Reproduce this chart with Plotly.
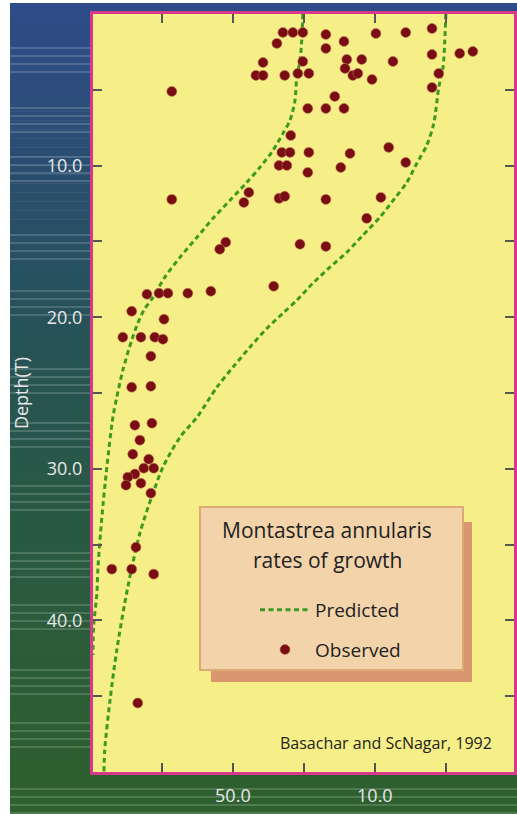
import plotly.graph_objects as go

# ---------------- data ----------------
# Observed growth rates (x, chart units; axis runs right-to-left) and depth (y)
obs_rate = [35.9, 33.1, 30.3, 23.8, 9.7, 1.3, -6.1, 37.6, 23.8, 18.7, -6.1, -13.9, -17.6,
            41.5, 30.3, 17.9, 13.7, 4.9, 18.4, 43.5, 41.5, 35.4, 31.7, 28.6, 16.2, 14.8,
            10.8, -8.0, -6.1, 67.2, 21.3, 28.9, 23.8, 18.7, 33.7, 36.2, 33.9, 28.6, 17.0,
            6.1, 37.0, 34.8, 28.9, 19.6, 1.3, 45.5, 46.9, 37.0, 35.4, 23.8, 8.3, 67.2,
            12.3, 52.0, 53.7, 31.1, 23.8, 38.5, 74.2, 70.8, 68.3, 62.7, 56.2, 78.5, 69.4,
            81.0, 75.9, 72.0, 69.7, 73.1, 78.5, 73.1, 77.6, 72.8, 76.2, 78.2, 73.7, 75.1,
            72.3, 77.6, 79.6, 80.1, 75.9, 73.1, 77.3, 84.1, 78.5, 72.3, 76.8]
obs_depth = [1.22, 1.22, 1.22, 1.35, 1.29, 1.22, 0.96, 1.94, 2.27, 1.81, 2.67, 2.60, 2.47,
             3.20, 3.13, 3.00, 3.00, 3.13, 3.59, 4.05, 4.05, 4.05, 3.92, 3.92, 4.05, 3.92,
             4.32, 3.92, 4.85, 5.11, 5.44, 6.23, 6.23, 6.23, 8.01, 9.13, 9.13, 9.13, 9.20,
             8.80, 9.99, 9.99, 10.45, 10.12, 9.79, 11.77, 12.43, 12.16, 12.03, 12.23, 12.10, 12.23,
             13.48, 15.06, 15.52, 15.19, 15.33, 17.96, 18.49, 18.42, 18.42, 18.42, 18.29, 19.61, 20.14,
             21.32, 21.32, 21.32, 21.46, 22.58, 24.62, 24.56, 27.13, 26.99, 28.11, 29.04, 29.37, 29.96,
             29.96, 30.35, 30.55, 31.08, 30.95, 31.61, 35.17, 36.62, 36.62, 36.95, 45.45]

# Predicted envelope (two dashed curves)
pred_left_rate = [30.3, 30.6, 31.1, 32.0, 32.5, 33.9, 35.9, 38.7, 42.4, 46.1, 50.8, 55.6, 60.1,
                  64.9, 69.2, 72.5, 75.1, 77.0, 78.5, 81.0, 82.7, 83.8, 85.5, 86.9, 88.0, 88.3,
                  89.2, 89.4]
pred_left_depth = [0.0, 1.75, 3.07, 4.19, 5.70, 7.02, 7.88, 9.00, 10.12, 11.11, 12.29, 13.48, 14.73,
                   16.05, 17.37, 18.69, 19.55, 20.53, 21.52, 23.50, 25.28, 26.60, 29.89, 33.19, 36.49,
                   38.20, 40.31, 42.29]
pred_right_rate = [-10.0, -9.7, -9.2, -8.0, -6.6, -4.6, -1.8, 1.0, 4.4, 8.6, 13.4, 17.9, 22.7,
                   27.5, 32.0, 35.9, 40.4, 45.2, 50.0, 54.5, 60.1, 64.9, 69.7, 72.5, 76.2, 79.6,
                   82.7, 84.6, 86.1, 86.3]
pred_right_depth = [0.0, 1.75, 3.53, 4.85, 7.22, 8.67, 9.86, 11.11, 12.16, 13.41, 14.60, 15.72, 16.71,
                    17.77, 18.89, 19.74, 20.73, 21.98, 23.30, 24.62, 26.60, 27.92, 29.89, 31.61, 34.25,
                    37.81, 41.96, 45.25, 48.55, 50.0]

x_tickvals = [70, 50, 30, 10, -10]
x_ticktext = ["", "50.0", "", "10.0", ""]
y_tickvals = [5, 10, 15, 20, 25, 30, 35, 40, 45]
y_ticktext = ["", "10.0", "", "20.0", "", "30.0", "", "40.0", ""]

legend_title_lines = ["Montastrea annularis", "rates of growth"]
citation = "Basachar and ScNagar, 1992"

# ---------------- layout helpers (pixel geometry) ----------------
W, H = 517, 814
PL, PR, PT, PB = 93, 514, 14, 772


def px(xp):
    return (xp - PL) / (PR - PL)


def py(yp):
    return (PB - yp) / (PB - PT)


FONT = "Open Sans"
GREEN = "#3d9a1f"
DOT = "#7a0c14"

fig = go.Figure()

fig.add_trace(go.Scatter(x=pred_left_rate, y=pred_left_depth, mode="lines", name="Predicted",
                         legendgroup="pred", line=dict(color=GREEN, width=3, dash="5px,3.5px",
                                                       shape="spline", smoothing=0.8)))
fig.add_trace(go.Scatter(x=pred_right_rate, y=pred_right_depth, mode="lines", name="Predicted",
                         legendgroup="pred", showlegend=False,
                         line=dict(color=GREEN, width=3, dash="5px,3.5px",
                                   shape="spline", smoothing=0.8)))
fig.add_trace(go.Scatter(x=obs_rate, y=obs_depth, mode="markers", name="Observed",
                         legendgroup="obs",
                         marker=dict(color=DOT, size=10,
                                     line=dict(color="rgba(190,120,90,0.7)", width=0.8))))

# ---------------- background decoration ----------------
shapes = []
stops = [(0.0, (46, 76, 138)), (0.2, (42, 78, 112)), (0.4, (39, 82, 88)),
         (0.6, (41, 88, 70)), (0.8, (44, 92, 56)), (1.0, (46, 96, 46))]


def lerp_color(t):
    for (t0, c0), (t1, c1) in zip(stops[:-1], stops[1:]):
        if t0 <= t <= t1:
            f = (t - t0) / (t1 - t0)
            c = [round(a + (b - a) * f) for a, b in zip(c0, c1)]
            return "rgb(%d,%d,%d)" % tuple(c)
    return "rgb(%d,%d,%d)" % stops[-1][1]


top, bot, n = 3, 814, 90
step = (bot - top) / n
for i in range(n):
    y0 = top + i * step
    y1 = y0 + step + 0.6
    shapes.append(dict(type="rect", xref="paper", yref="paper", layer="below",
                       x0=px(10), x1=px(517), y0=py(min(y1, bot)), y1=py(y0),
                       fillcolor=lerp_color((i + 0.5) / n), line=dict(width=0)))

group_starts = [48, 108, 157, 235, 291, 369, 423, 486, 553, 605, 670, 723, 789]
for g in group_starts:
    for k in range(4):
        yl = g + 8 * k
        if yl > 813:
            continue
        shapes.append(dict(type="line", xref="paper", yref="paper", layer="below",
                           x0=px(10), x1=px(517), y0=py(yl), y1=py(yl),
                           line=dict(color="rgba(255,255,255,0.22)", width=1.5)))

# plot area
shapes.append(dict(type="rect", xref="paper", yref="paper", layer="below",
                   x0=0, x1=1, y0=0, y1=1, fillcolor="#f6ee86", line=dict(width=0)))
# legend shadow + box
shapes.append(dict(type="rect", xref="paper", yref="paper", layer="below",
                   x0=px(211), x1=px(472), y0=py(682), y1=py(522),
                   fillcolor="#da9670", line=dict(width=0)))
shapes.append(dict(type="rect", xref="paper", yref="paper", layer="below",
                   x0=px(200), x1=px(463), y0=py(670), y1=py(507),
                   fillcolor="#f3d3aa", line=dict(color="#dcaa74", width=2)))

annotations = [
    dict(text=legend_title_lines[0], xref="paper", yref="paper", x=px(327), y=py(530),
         xanchor="center", yanchor="middle", showarrow=False,
         font=dict(family=FONT, size=21, color="#222222")),
    dict(text=legend_title_lines[1], xref="paper", yref="paper", x=px(327), y=py(560),
         xanchor="center", yanchor="middle", showarrow=False,
         font=dict(family=FONT, size=21, color="#222222")),
    dict(text=citation, xref="paper", yref="paper", x=px(494), y=py(743),
         xanchor="right", yanchor="middle", showarrow=False,
         font=dict(family=FONT, size=16, color="#222222")),
]

fig.update_layout(
    width=W, height=H,
    margin=dict(l=PL, r=W - PR, t=PT, b=H - PB, autoexpand=False),
    paper_bgcolor="white", plot_bgcolor="rgba(0,0,0,0)",
    font=dict(family=FONT, size=18, color="#e8e8e8"),
    shapes=shapes, annotations=annotations,
    showlegend=True,
    legend=dict(x=px(255), y=py(591), xanchor="left", yanchor="top",
                bgcolor="rgba(0,0,0,0)", borderwidth=0,
                font=dict(family=FONT, size=19, color="#222222"),
                itemwidth=50, traceorder="grouped", tracegroupgap=12),
    xaxis=dict(range=[89.4, -29.2], showgrid=False, zeroline=False,
               tickmode="array", tickvals=x_tickvals, ticktext=x_ticktext,
               ticks="inside", ticklen=9, tickwidth=2, tickcolor="#555555",
               showline=True, linecolor="#d6388c", linewidth=3, mirror="ticks",
               ticklabelstandoff=5,
               tickfont=dict(family=FONT, size=18, color="#e8e8e8")),
    yaxis=dict(range=[50, 0], showgrid=False, zeroline=False,
               tickmode="array", tickvals=y_tickvals, ticktext=y_ticktext,
               ticks="inside", ticklen=9, tickwidth=2, tickcolor="#555555",
               showline=True, linecolor="#d6388c", linewidth=3, mirror="ticks",
               ticklabelstandoff=4,
               tickfont=dict(family=FONT, size=18, color="#e8e8e8"),
               title=dict(text="Depth(T)", standoff=14,
                          font=dict(family=FONT, size=18, color="#e8e8e8"))),
)

fig.write_html("out.html",
               config={"displayModeBar": False},
               post_script="document.body.style.margin='0';"
                           "document.body.style.overflow='hidden';")
